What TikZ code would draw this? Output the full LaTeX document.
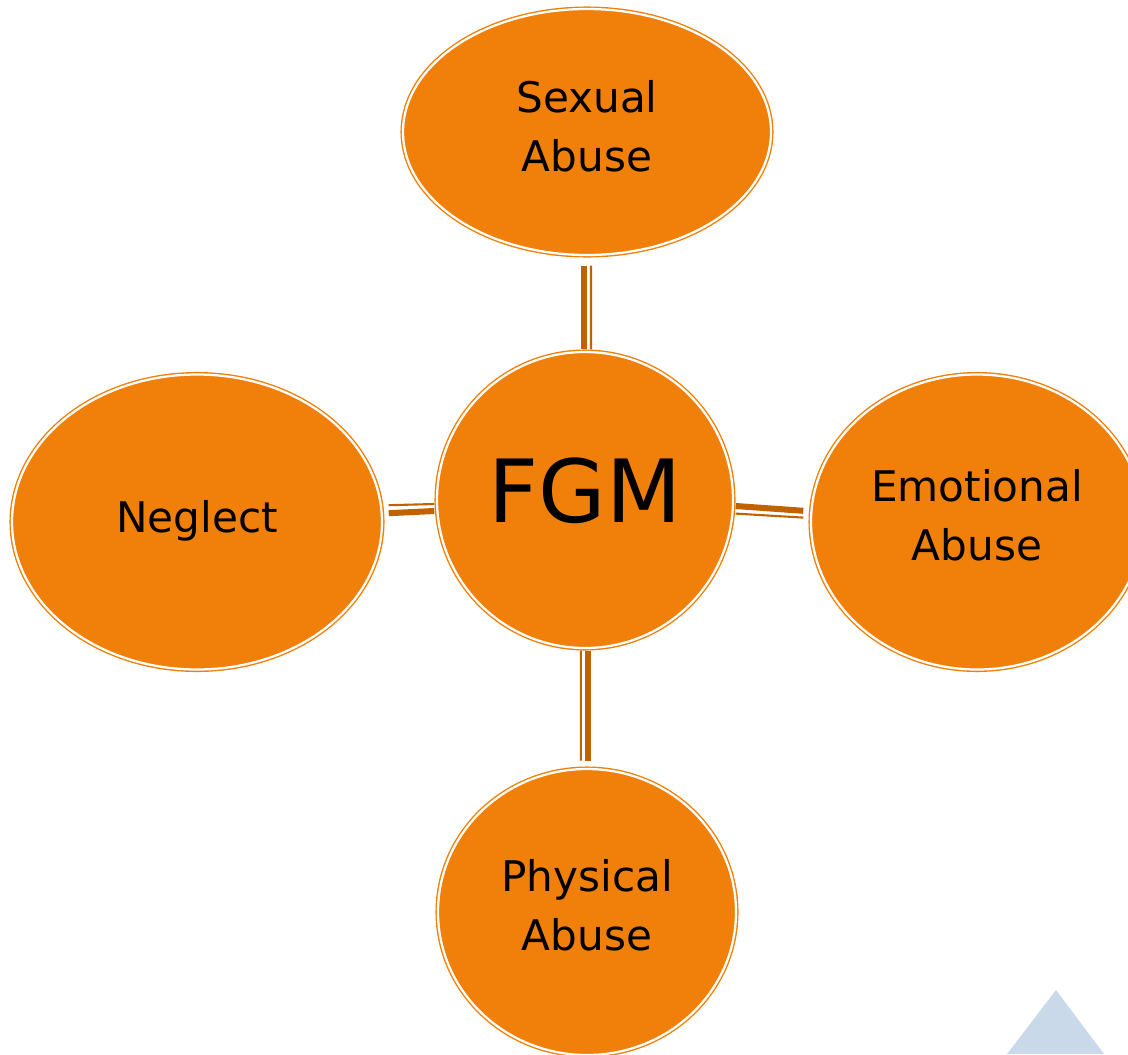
\documentclass[tikz,border=0pt]{standalone}
\usepackage{fontspec}
\setmainfont{DejaVu Sans}
\usetikzlibrary{shapes.geometric}

\definecolor{bubbleorange}{RGB}{240,128,10}
\definecolor{linkbrown}{RGB}{192,98,0}
\definecolor{cornerblue}{RGB}{201,217,234}

\begin{document}
\begin{tikzpicture}[
  bubble/.style={ellipse, draw=bubbleorange, fill=bubbleorange, double=white, double distance=1.6pt, line width=1pt, inner sep=0pt, align=center, text depth=0.3cm, font=\fontsize{30}{42}\selectfont},
  thickbar/.style={draw=linkbrown, line width=4.3pt},
  thinbar/.style={draw=linkbrown, line width=1.5pt}
]
\useasboundingbox (0,0) rectangle (28.2,-26.35);

\node[bubble, minimum width=7.4cm, minimum height=7.4cm, text depth=0.5cm, font=\fontsize{62}{70}\selectfont] (fgm) at (14.625,-12.5) {FGM};
\node[bubble, minimum width=9.2cm, minimum height=6.15cm] (sexual) at (14.675,-3.3) {Sexual\\Abuse};
\node[bubble, minimum width=8.3cm, minimum height=7.375cm, text depth=0.35cm] (emotional) at (24.425,-13.05) {Emotional\\Abuse};
\node[bubble, minimum width=9.25cm, minimum height=7.375cm, text depth=0.3cm] (neglect) at (4.925,-13.05) {Neglect};
\node[bubble, minimum width=7.45cm, minimum height=7.15cm, text depth=0.35cm] (physical) at (14.675,-22.8) {Physical\\Abuse};

% thin-thick links from the centre
\draw[thickbar] ([shift={(-0.075,-0.25)}]sexual.south) -- ([shift={(-0.025,0.05)}]fgm.north);
\draw[thinbar] ([shift={(0.1,-0.25)}]sexual.south) -- ([shift={(0.15,0.05)}]fgm.north);
\draw[thickbar] ([shift={(0.05,-0.15)}]fgm.east) -- ([shift={(-0.175,0.28)}]emotional.west);
\draw[thinbar] ([shift={(0.05,-0.34)}]fgm.east) -- ([shift={(-0.175,0.11)}]emotional.west);
\draw[thickbar] ([shift={(0.15,0.22)}]neglect.east) -- ([shift={(-0.05,-0.275)}]fgm.west);
\draw[thinbar] ([shift={(0.15,0.42)}]neglect.east) -- ([shift={(-0.05,-0.1)}]fgm.west);
\draw[thickbar] ([shift={(0.075,-0.05)}]fgm.south) -- ([shift={(0.025,0.19)}]physical.north);
\draw[thinbar] ([shift={(-0.105,-0.05)}]fgm.south) -- ([shift={(-0.155,0.19)}]physical.north);

% corner triangle
\fill[cornerblue] (26.4,-24.75) -- (27.6,-26.35) -- (25.175,-26.35) -- cycle;
\end{tikzpicture}
\end{document}
